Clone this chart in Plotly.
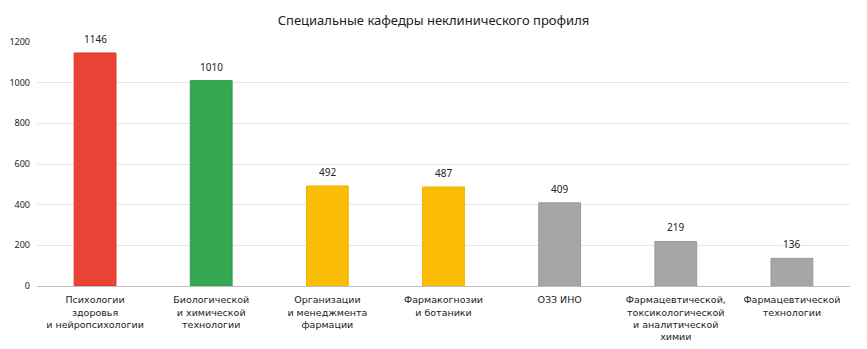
import plotly.graph_objects as go

categories = [
    "Психологии<br>здоровья<br>и нейропсихологии",
    "Биологической<br>и химической<br>технологии",
    "Организации<br>и менеджмента<br>фармации",
    "Фармакогнозии<br>и ботаники",
    "ОЗЗ ИНО",
    "Фармацевтической,<br>токсикологической<br>и аналитической<br>химии",
    "Фармацевтической<br>технологии",
]
values = [1146, 1010, 492, 487, 409, 219, 136]
colors = ["#EA4335", "#34A853", "#FBBC04", "#FBBC04", "#A6A6A6", "#A6A6A6", "#A6A6A6"]
line_colors = ["#D9362B", "#2E9A4A", "#F2B400", "#F2B400", "#999999", "#999999", "#999999"]
title = "Специальные кафедры неклинического профиля"
y_ticks = [0, 200, 400, 600, 800, 1000, 1200]

FONT = "Noto Sans"
XFONT = "DejaVu Sans"

fig = go.Figure()
fig.add_trace(go.Bar(
    x=categories, y=values,
    marker=dict(color=colors, line=dict(color=line_colors, width=1)),
    hoverinfo="skip",
))
for c, v in zip(categories, values):
    fig.add_annotation(x=c, y=v, text=str(v), showarrow=False, yanchor="bottom",
                       yshift=5, font=dict(family=FONT, size=10, color="#222"))

fig.update_layout(
    width=867, height=349,
    margin=dict(l=37, r=17, t=42, b=63),
    paper_bgcolor="white", plot_bgcolor="white",
    bargap=0.64,
    showlegend=False,
    title=dict(text=title, x=0.5, xanchor="center", y=0.94, yanchor="middle",
               font=dict(family=FONT, size=13, color="#222")),
    font=dict(family=FONT, size=10, color="#222"),
    xaxis=dict(showline=True, linecolor="#BFBFBF", linewidth=1, ticks="",
               ticklabelstandoff=5, automargin=False,
               tickfont=dict(family=XFONT, size=9.5, color="#222")),
    yaxis=dict(range=[0, 1200], tickvals=y_ticks, showgrid=True, gridcolor="#E6E6E6",
               zeroline=False, ticks="", automargin=False,
               tickfont=dict(family=FONT, size=9, color="#222"),
               ticklabelstandoff=6),
)
fig.write_html("out.html")
